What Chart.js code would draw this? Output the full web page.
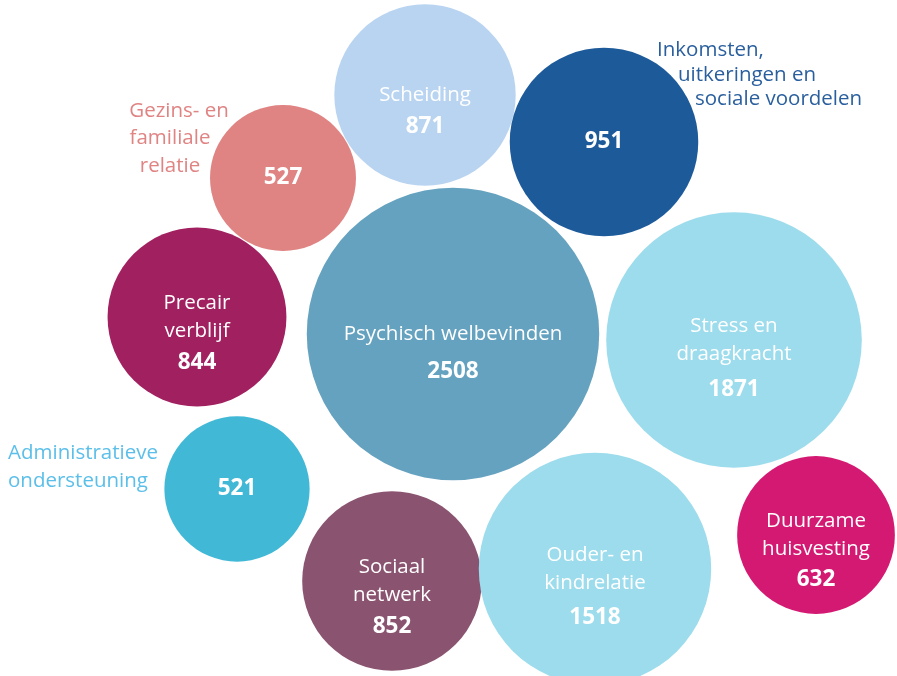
<!DOCTYPE html>
<html>
<head>
<meta charset="utf-8">
<script src="https://cdn.jsdelivr.net/npm/chart.js@4.4.0/dist/chart.umd.min.js"></script>
<style>
  html, body { margin: 0; padding: 0; background: #fff; }
  #wrap { width: 897px; height: 676px; }
</style>
</head>
<body>
<div id="wrap"><canvas id="chart" width="897" height="676"></canvas></div>
<script>
// thema's en aantallen
const categories = ["Scheiding", "Inkomsten, uitkeringen en sociale voordelen", "Gezins- en familiale relatie",
    "Precair verblijf", "Psychisch welbevinden", "Stress en draagkracht", "Administratieve ondersteuning",
    "Sociaal netwerk", "Ouder- en kindrelatie", "Duurzame huisvesting"];
const values = [871, 951, 527, 844, 2508, 1871, 521, 852, 1518, 632];

// plaats van elke bel (bubble layout, in schaal-eenheden)
const bubbleX = [425, 604, 283, 197, 453, 734, 237, 392, 595, 816];
const bubbleY = [95, 142, 178, 317, 334, 340, 489, 581, 569, 535];

const colors = ["#b9d4f1", "#1d5a9a", "#e08383", "#a12060", "#65a2bf", "#9ddcec", "#41b8d6", "#8a5471", "#9ddcec", "#d41972"];

// tekst in de bel (leeg = label staat buiten)
const innerLines = [["Scheiding"], [], [], ["Precair", "verblijf"], ["Psychisch welbevinden"], ["Stress en", "draagkracht"],
    [], ["Sociaal", "netwerk"], ["Ouder- en", "kindrelatie"], ["Duurzame", "huisvesting"]];

// labels buiten de bel
const outerLabels = [
    { i: 1, color: "#2a5f9e", align: "left", lines: [["Inkomsten,", 657, 50], ["uitkeringen en", 678, 75], ["sociale voordelen", 695, 99]] },
    { i: 2, color: "#e08383", align: "center", lines: [["Gezins- en", 179, 111], ["familiale", 170, 138], ["relatie", 170, 166]] },
    { i: 6, color: "#5bbfe9", align: "left", lines: [["Administratieve", 8, 453], ["ondersteuning", 8, 481]] }
];

function radius(v) {
    return 11 + 2.7 * Math.sqrt(v);
}

const labelPlugin = {
    id: "labels",
    afterDatasetsDraw(chart) {
        const ctx = chart.ctx;
        const meta = chart.getDatasetMeta(0);
        ctx.save();
        ctx.textBaseline = "middle";
        ctx.textAlign = "center";
        ctx.fillStyle = "#ffffff";
        meta.data.forEach((el, i) => {
            const lines = innerLines[i];
            const r = radius(values[i]);
            let y = el.y - (lines.length - 1) * 14;
            ctx.font = "20.5px 'Open Sans'";
            lines.forEach((t, k) => {
                ctx.fillText(t, el.x, y + k * 28);
            });
            let vy = lines.length ? y + (lines.length - 1) * 28 + 22 + r * 0.11 : el.y;
            ctx.font = "bold 22.5px 'Open Sans'";
            ctx.fillText(String(values[i]), el.x, vy);
        });
        ctx.font = "20.5px 'Open Sans'";
        outerLabels.forEach(lab => {
            ctx.fillStyle = lab.color;
            ctx.textAlign = lab.align;
            lab.lines.forEach(l => ctx.fillText(l[0], l[1], l[2]));
        });
        ctx.restore();
    }
};

new Chart(document.getElementById("chart"), {
    type: "bubble",
    data: {
        labels: categories,
        datasets: [{
            data: values.map((v, i) => ({ x: bubbleX[i], y: bubbleY[i], r: radius(v) })),
            backgroundColor: colors,
            hoverBackgroundColor: colors,
            borderWidth: 0,
            hoverBorderWidth: 0,
            clip: false
        }]
    },
    options: {
        responsive: false,
        animation: false,
        devicePixelRatio: 1,
        layout: { padding: 0, autoPadding: false },
        events: [],
        scales: {
            x: { type: "linear", min: 0, max: 897, display: false },
            y: { type: "linear", min: 0, max: 676, reverse: true, display: false }
        },
        plugins: {
            legend: { display: false },
            tooltip: { enabled: false }
        }
    },
    plugins: [labelPlugin]
});
</script>
</body>
</html>
